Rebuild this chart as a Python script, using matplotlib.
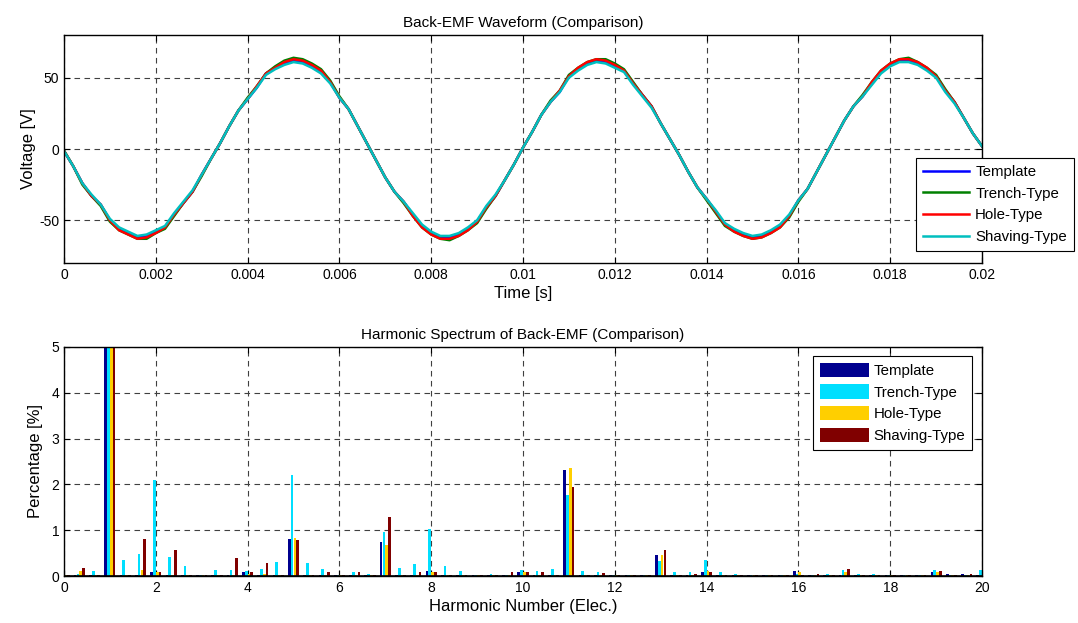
import numpy as np
import matplotlib
matplotlib.use("Agg")
import matplotlib.pyplot as plt

plt.rcParams['font.family'] = ['Liberation Sans', 'DejaVu Sans']
plt.rcParams['axes.unicode_minus'] = False

# ---------------- Back-EMF waveform data (0 .. 0.02 s, step 0.0002 s) ----------------
t_start, t_end = 0.0, 0.02
template_v = [
    -1.5, -12, -24, -33, -39, -50, -56, -59, -62, -61,
    -58, -55, -46, -38, -30, -18, -7, 4, 16, 27,
    35, 43, 53, 57, 60, 62, 61, 58, 54, 47,
    36, 28, 16, 4, -8, -20, -30, -37, -46, -54,
    -59, -62, -62, -60, -56, -51, -41, -33, -22, -11,
    1, 12, 24, 33, 40, 51, 56, 60, 62, 61,
    58, 55, 46, 38, 30, 18, 7, -4, -16, -27,
    -35, -44, -53, -57, -60, -62, -61, -58, -54, -47,
    -36, -28, -16, -4, 8, 20, 30, 37, 46, 54,
    59, 62, 62, 60, 56, 51, 41, 33, 22, 11,
    2]
trench_v = [
    -1, -12, -25, -33, -40, -51, -57, -60, -63, -63,
    -59, -56, -47, -38, -30, -19, -7, 4, 16, 27,
    36, 44, 53, 58, 62, 64, 63, 60, 56, 48,
    37, 28, 16, 4, -8, -20, -30, -38, -47, -55,
    -60, -63, -64, -61, -57, -52, -42, -33, -22, -11,
    1, 12, 24, 34, 41, 52, 57, 61, 63, 63,
    60, 56, 47, 38, 30, 18, 7, -4, -16, -27,
    -36, -45, -54, -58, -61, -63, -62, -59, -55, -48,
    -37, -28, -16, -4, 8, 20, 30, 38, 47, 55,
    60, 63, 64, 61, 57, 52, 42, 33, 22, 11,
    2]
hole_v = [
    -1.5, -12, -24, -33, -39, -50, -57, -60, -63, -62,
    -59, -55, -46, -38, -30, -18, -7, 4, 16, 27,
    35, 44, 53, 57, 61, 63, 62, 59, 55, 47,
    36, 28, 16, 4, -8, -20, -30, -37, -47, -55,
    -60, -63, -63, -61, -57, -51, -41, -33, -22, -11,
    1, 12, 24, 33, 41, 51, 57, 61, 63, 62,
    59, 55, 46, 38, 30, 18, 7, -4, -16, -27,
    -35, -44, -53, -58, -61, -63, -62, -59, -55, -47,
    -36, -28, -16, -4, 8, 20, 30, 37, 47, 55,
    60, 63, 63, 61, 57, 51, 41, 33, 22, 11,
    2]
shaving_v = [
    -1.5, -12, -24, -32, -39, -49, -55, -58, -61, -60,
    -57, -54, -45, -37, -29, -18, -7, 4, 16, 27,
    35, 43, 52, 56, 59, 61, 60, 57, 53, 46,
    36, 28, 16, 4, -8, -20, -30, -37, -45, -53,
    -58, -61, -61, -59, -55, -50, -40, -32, -22, -11,
    1, 12, 24, 33, 40, 50, 55, 59, 61, 60,
    57, 54, 45, 37, 29, 18, 7, -4, -16, -27,
    -35, -43, -52, -56, -59, -61, -60, -57, -53, -46,
    -36, -28, -16, -4, 8, 20, 30, 37, 45, 53,
    58, 61, 61, 59, 55, 50, 40, 32, 22, 11,
    2]

wave_labels = ['Template', 'Trench-Type', 'Hole-Type', 'Shaving-Type']
wave_colors = ['#0000FF', '#008000', '#FF0000', '#00BFBF']

# ---------------- Harmonic spectrum data (harmonic order step 1/3, 0..20) ----------------
n_groups = 61
harm_template = [0.02, 0.02, 0.03, 100, 0.02, 0.02, 0.08, 0.02, 0.03, 0.02,
                 0.03, 0.02, 0.09, 0.03, 0.02, 0.81, 0.03, 0.03, 0.02, 0.03,
                 0.03, 0.74, 0.03, 0.03, 0.11, 0.03, 0.03, 0.02, 0.03, 0.02,
                 0.08, 0.03, 0.03, 2.31, 0.03, 0.03, 0.03, 0.02, 0.03, 0.46,
                 0.03, 0.03, 0.08, 0.03, 0.03, 0.03, 0.02, 0.03, 0.11, 0.03,
                 0.03, 0.03, 0.03, 0.03, 0.03, 0.02, 0.02, 0.08, 0.05, 0.05,
                 0.03]
harm_trench = [0.02, 0.04, 0.10, 100, 0.36, 0.49, 2.09, 0.42, 0.21, 0.03,
               0.14, 0.14, 0.10, 0.16, 0.31, 2.20, 0.28, 0.16, 0.03, 0.08,
               0.05, 0.95, 0.18, 0.26, 1.02, 0.21, 0.11, 0.03, 0.05, 0.03,
               0.14, 0.11, 0.16, 1.76, 0.11, 0.08, 0.03, 0.02, 0.03, 0.32,
               0.08, 0.08, 0.35, 0.08, 0.05, 0.03, 0.02, 0.03, 0.05, 0.03,
               0.05, 0.14, 0.05, 0.05, 0.03, 0.02, 0.02, 0.14, 0.03, 0.03,
               0.14]
harm_hole = [0.02, 0.10, 0.03, 100, 0.03, 0.14, 0.08, 0.02, 0.03, 0.02,
             0.03, 0.02, 0.05, 0.05, 0.02, 0.84, 0.03, 0.03, 0.03, 0.03,
             0.03, 0.67, 0.03, 0.03, 0.08, 0.03, 0.03, 0.03, 0.03, 0.02,
             0.08, 0.03, 0.03, 2.35, 0.03, 0.03, 0.03, 0.02, 0.03, 0.46,
             0.03, 0.03, 0.10, 0.03, 0.03, 0.03, 0.02, 0.03, 0.08, 0.03,
             0.03, 0.08, 0.03, 0.03, 0.03, 0.02, 0.02, 0.08, 0.03, 0.03,
             0.05]
harm_shaving = [0.03, 0.18, 0.03, 100, 0.03, 0.80, 0.08, 0.56, 0.03, 0.02,
                0.02, 0.39, 0.08, 0.29, 0.03, 0.79, 0.03, 0.08, 0.03, 0.08,
                0.03, 1.29, 0.03, 0.08, 0.08, 0.03, 0.03, 0.03, 0.03, 0.08,
                0.08, 0.08, 0.03, 1.95, 0.03, 0.06, 0.03, 0.02, 0.03, 0.57,
                0.03, 0.05, 0.08, 0.03, 0.03, 0.03, 0.02, 0.03, 0.03, 0.05,
                0.03, 0.15, 0.03, 0.03, 0.03, 0.02, 0.02, 0.11, 0.03, 0.05,
                0.05]
bar_labels = ['Template', 'Trench-Type', 'Hole-Type', 'Shaving-Type']
bar_colors = ['#00008F', '#00DFFF', '#FFCF00', '#800000']

# ---------------- Figure ----------------
W, H = 1078, 623
fig = plt.figure(figsize=(W / 100, H / 100), dpi=100)

def px_axes(left, top, right, bottom):
    return fig.add_axes([left / W, 1 - bottom / H, (right - left) / W, (bottom - top) / H])

grid_kw = dict(linestyle=(0, (5, 4)), color='0.25', linewidth=0.8)

def style_axes(ax):
    ax.tick_params(direction='in', top=True, right=True, length=4, labelsize=10, width=0.8)
    for s in ax.spines.values():
        s.set_linewidth(1.0)
    ax.grid(True, **grid_kw)
    ax.set_axisbelow(True)

# ---- top: waveform ----
ax1 = px_axes(64, 35, 982, 263)
series = [template_v, trench_v, hole_v, shaving_v]
for vals, lab, col in zip(series, wave_labels, wave_colors):
    t = np.linspace(t_start, t_end, len(vals))
    ax1.plot(t, vals, color=col, linewidth=1.8, label=lab)
ax1.set_xlim(0, 0.02)
ax1.set_ylim(-80, 80)
xt = [0, 0.002, 0.004, 0.006, 0.008, 0.01, 0.012, 0.014, 0.016, 0.018, 0.02]
ax1.set_xticks(xt)
ax1.set_xticklabels(['0', '0.002', '0.004', '0.006', '0.008', '0.01', '0.012', '0.014',
                     '0.016', '0.018', '0.02'])
ax1.set_yticks([-50, 0, 50])
style_axes(ax1)
ax1.set_title('Back-EMF Waveform (Comparison)', fontsize=11, pad=6)
ax1.set_xlabel('Time [s]', fontsize=12, labelpad=3)
ax1.set_ylabel('Voltage [V]', fontsize=12, labelpad=2)
leg1 = ax1.legend(loc='upper left', bbox_to_anchor=(916 / W, 1 - 158 / H),
                  bbox_transform=fig.transFigure, fontsize=10.8, frameon=True,
                  fancybox=False, edgecolor='k', framealpha=1,
                  handlelength=3.1, labelspacing=0.52, borderpad=0.45, handletextpad=0.4,
                  borderaxespad=0)
leg1.get_frame().set_linewidth(0.8)

# ---- bottom: harmonic spectrum ----
ax2 = px_axes(64, 347, 982, 576)
harm_pos = np.arange(n_groups) / 3.0
slot = 0.0606
bw = 0.058
for j, (vals, lab, col) in enumerate(zip([harm_template, harm_trench, harm_hole, harm_shaving],
                                          bar_labels, bar_colors)):
    ax2.bar(harm_pos + (j - 1.5) * slot, vals, width=bw, color=col, label=lab,
            linewidth=0, zorder=2)
ax2.axhline(0, color='k', linewidth=1.2, zorder=3)
ax2.set_xlim(0, 20)
ax2.set_ylim(0, 5)
ax2.set_xticks(np.arange(0, 21, 2))
ax2.set_yticks([0, 1, 2, 3, 4, 5])
style_axes(ax2)
ax2.set_title('Harmonic Spectrum of Back-EMF (Comparison)', fontsize=11, pad=6)
ax2.set_xlabel('Harmonic Number (Elec.)', fontsize=12, labelpad=3)
ax2.set_ylabel('Percentage [%]', fontsize=12, labelpad=6)
leg2 = ax2.legend(loc='upper left', bbox_to_anchor=(813 / W, 1 - 356 / H),
                  bbox_transform=fig.transFigure, fontsize=10.8, frameon=True,
                  fancybox=False, edgecolor='k', framealpha=1,
                  handlelength=3.3, handleheight=1.1, labelspacing=0.42,
                  borderpad=0.45, handletextpad=0.3, borderaxespad=0)
leg2.get_frame().set_linewidth(0.8)

fig.savefig('out.png', dpi=100)
